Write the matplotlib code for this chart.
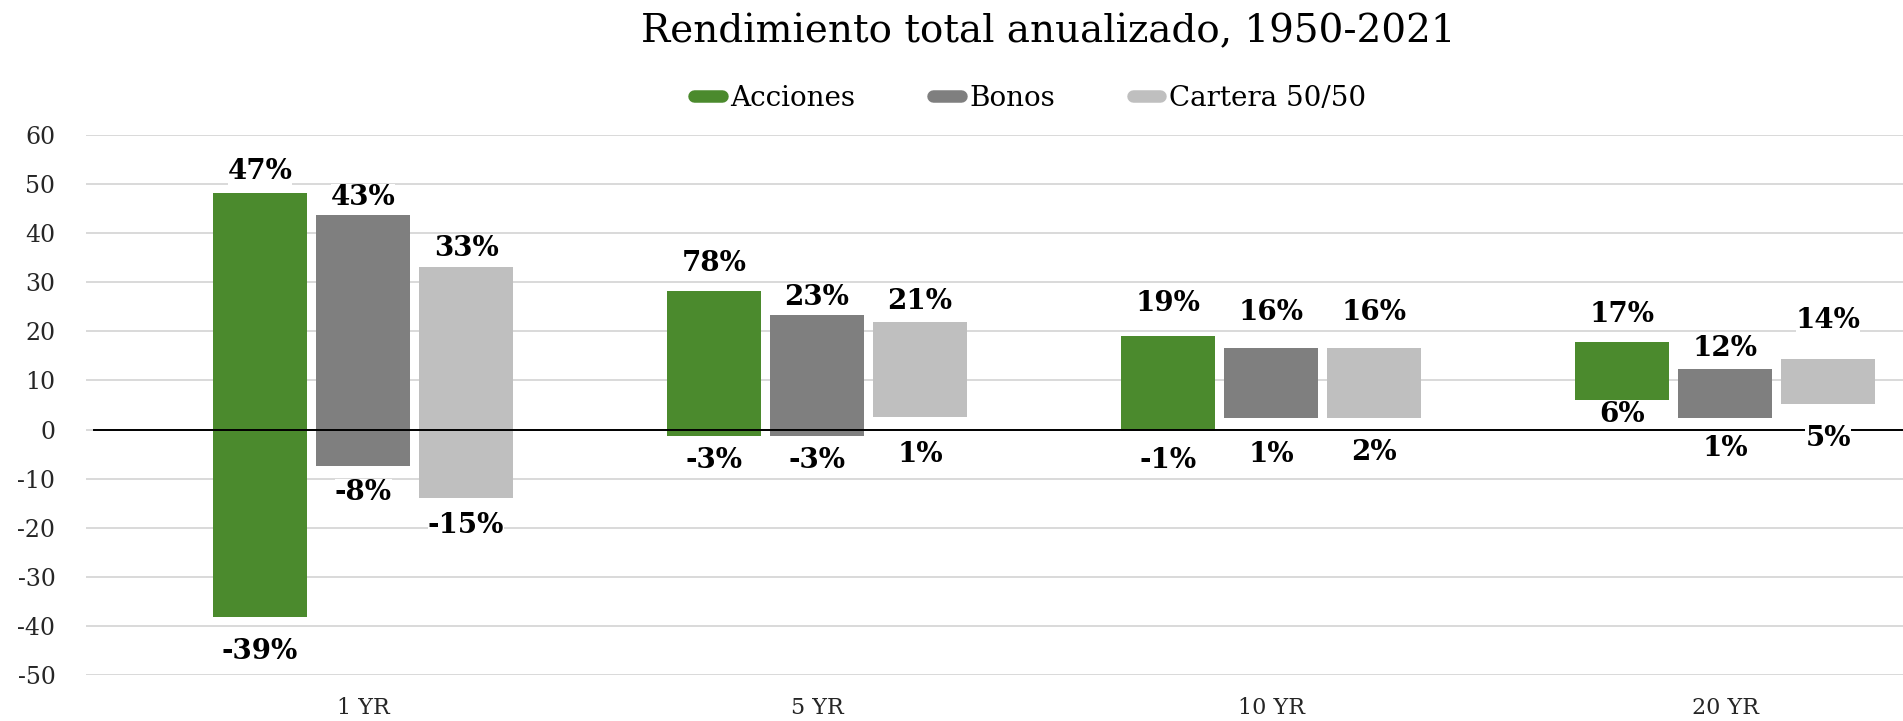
import matplotlib

matplotlib.use("Agg")
import matplotlib.pyplot as plt
import numpy as np
from matplotlib.lines import Line2D

# data (values in %)
categories = ["1 YR", "5 YR", "10 YR", "20 YR"]
series_names = ["Acciones", "Bonos", "Cartera 50/50"]

acciones_low = [-38.2, -1.4, -0.3, 6.1]
acciones_high = [48.2, 28.3, 19.1, 17.9]
bonos_low = [-7.5, -1.4, 2.45, 2.45]
bonos_high = [43.7, 23.4, 16.7, 12.4]
cartera_low = [-14.0, 2.5, 2.45, 5.2]
cartera_high = [33.1, 22.0, 16.7, 14.4]

acciones_top_labels = ["47%", "78%", "19%", "17%"]
acciones_bottom_labels = ["-39%", "-3%", "-1%", "6%"]
bonos_top_labels = ["43%", "23%", "16%", "12%"]
bonos_bottom_labels = ["-8%", "-3%", "1%", "1%"]
cartera_top_labels = ["33%", "21%", "16%", "14%"]
cartera_bottom_labels = ["-15%", "1%", "2%", "5%"]

y_ticks = list(range(-50, 61, 10))

# layout / style
COLORS = ["#4b8a2d", "#7f7f7f", "#bfbfbf"]
GRID = "#d9d9d9"
SERIF = ["DejaVu Serif"]
DPI = 100
W, H = 1903, 721
# label centre offsets from the bar edge in pixels (hand placed in the source chart)
top_shift = [[21, 27, 32, 27], [18, 17, 35, 20], [19, 20, 35, 38]]
bottom_shift = [[-34, -24, -29, -15], [-26, -24, -37, -31], [-27, -37, -35, -34]]

plt.rcParams["axes.unicode_minus"] = False


def main() -> None:
    fig = plt.figure(figsize=(W / DPI, H / DPI), dpi=DPI)
    ax_left, ax_right = 86 / W, 1.0
    ax_bottom, ax_top = 1 - 675 / H, 1 - 135 / H
    ax = fig.add_axes([ax_left, ax_bottom, ax_right - ax_left, ax_top - ax_bottom])

    step_px = 454
    first_px = 363
    xmin = -(first_px - 86) / step_px
    xmax = xmin + (W - 86) / step_px
    ax.set_xlim(xmin, xmax)
    ax.set_ylim(-50, 60)

    x = np.arange(len(categories))
    width = 93.5 / step_px
    offset = 103 / step_px

    lows = [acciones_low, bonos_low, cartera_low]
    highs = [acciones_high, bonos_high, cartera_high]
    tops = [acciones_top_labels, bonos_top_labels, cartera_top_labels]
    bottoms = [acciones_bottom_labels, bonos_bottom_labels, cartera_bottom_labels]

    for i in range(3):
        lo = np.array(lows[i])
        hi = np.array(highs[i])
        xs = x + (i - 1) * offset
        ax.bar(xs, hi - lo, bottom=lo, width=width, color=COLORS[i], zorder=1)
        for j in range(len(categories)):
            for y, txt, dy in ((hi[j], tops[i][j], top_shift[i][j]),
                               (lo[j], bottoms[i][j], bottom_shift[i][j])):
                ax.annotate(
                    txt, (xs[j], y), xytext=(0, dy), textcoords="offset pixels",
                    ha="center", va="center", fontsize=20, fontweight="bold",
                    family=SERIF, color="black", zorder=5,
                    bbox=dict(boxstyle="square,pad=0.0", fc="white", ec="none"),
                )

    ax.axhline(0, xmin=8 / (W - 86), xmax=1, color="black", lw=1.4, zorder=3)

    ax.set_yticks(y_ticks)
    ax.set_xticks(x)
    ax.set_xticklabels(categories)
    ax.grid(axis="y", color=GRID, lw=1.4, zorder=0)
    ax.set_axisbelow(True)
    for s in ax.spines.values():
        s.set_visible(False)
    ax.tick_params(axis="y", length=0, pad=22, labelsize=17, labelcolor="#262626")
    ax.tick_params(axis="x", length=0, pad=16, labelsize=16, labelcolor="#262626")
    for lab in ax.get_xticklabels() + ax.get_yticklabels():
        lab.set_family(SERIF)

    cx = 1048 / W
    fig.text(cx, 1 - 32 / H, "Rendimiento total anualizado, 1950-2021",
             ha="center", va="center", fontsize=28, family=SERIF, color="black")

    handles = [Line2D([0], [0], color=c, lw=9, solid_capstyle="round") for c in COLORS]
    fig.legend(handles, series_names, loc="center", bbox_to_anchor=(1030 / W, 1 - 98 / H),
               ncol=3, frameon=False, handlelength=1.0, handletextpad=0.3,
               columnspacing=2.8, prop={"family": SERIF, "size": 20})

    fig.savefig("out.png", dpi=DPI)
    plt.close(fig)


if __name__ == "__main__":
    main()
